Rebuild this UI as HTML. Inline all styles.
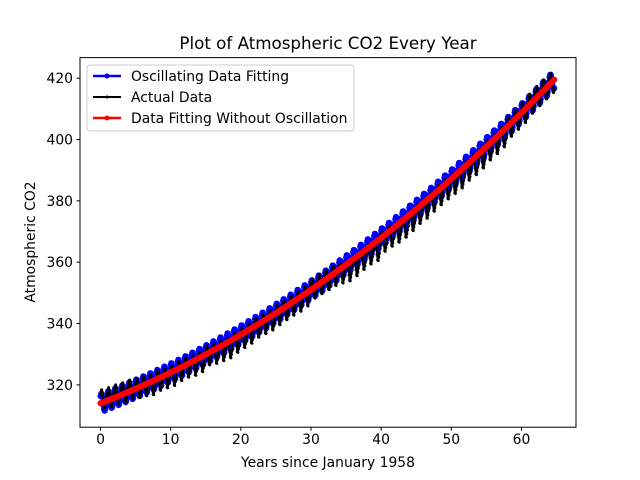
<!DOCTYPE html>
<html><head><meta charset="utf-8"><style>body{margin:0;background:#fff}svg{display:block;font-family:"DejaVu Sans","Liberation Sans",sans-serif}</style></head>
<body>
<svg id="chart" width="640" height="480" xmlns="http://www.w3.org/2000/svg">
<rect width="640" height="480" fill="#fff"/>
<text x="328" y="49" font-size="16.7" text-anchor="middle">Plot of Atmospheric CO2 Every Year</text>
<text x="328" y="467" font-size="13.9" text-anchor="middle">Years since January 1958</text>
<text x="35" y="242" font-size="13.9" text-anchor="middle" transform="rotate(-90 35 242)">Atmospheric CO2</text>
<defs><clipPath id="clip"><rect x="80" y="57.6" width="496" height="369.6"/></clipPath></defs>
<g id="plot" clip-path="url(#clip)"></g>
<g id="axes"></g>
<g id="legend">
<rect x="87" y="65" width="267" height="66" rx="3" fill="#fff" fill-opacity="0.8" stroke="#ccc"/>
<g><line x1="93" y1="76" x2="121" y2="76" stroke="#00f" stroke-width="2.5"/><circle cx="107" cy="76" r="2.5" fill="#00f"/><text x="131" y="81" font-size="13.9">Oscillating Data Fitting</text></g>
<g><line x1="93" y1="97" x2="121" y2="97" stroke="#000" stroke-width="2"/><circle cx="107" cy="97" r="1.5" fill="#000"/><text x="131" y="102" font-size="13.9">Actual Data</text></g>
<g><line x1="93" y1="118" x2="121" y2="118" stroke="#f00" stroke-width="2.5"/><circle cx="107" cy="118" r="2.5" fill="#f00"/><text x="131" y="123" font-size="13.9">Data Fitting Without Oscillation</text></g>
</g>
</svg>
<script>
// Annual mean CO2 1958..2023
const annualMeans=[315.3,316.0,316.9,317.6,318.5,319.0,319.6,320.0,321.4,322.2,323.0,324.6,325.7,326.3,327.5,329.7,330.2,331.1,332.0,333.8,335.4,336.8,338.7,339.9,341.1,342.8,344.4,345.9,347.2,348.9,351.5,352.9,354.2,355.6,356.4,357.1,358.8,360.8,362.6,363.7,366.7,368.4,369.7,371.3,373.5,375.8,377.5,379.8,381.9,383.8,385.6,387.4,389.9,391.7,393.9,396.5,398.6,400.8,404.2,406.5,408.7,411.7,414.2,416.4,418.5,421.1];
// Seasonal offsets Jan..Dec
const seasonalCycle=[0.0,0.7,1.4,2.6,3.1,2.4,0.9,-1.2,-3.0,-3.2,-2.0,-0.8];
const monthCount=[777];
// fit params: a, b, c (quadratic)
const fitQuad=[314.0,0.889,0.01149];
// oscillation: amplitude, phase (radians)
const fitOsc=[3.0,0.9];
const xTicks=[0,10,20,30,40,50,60];
const yTicks=[320,340,360,380,400,420];

const L=80,R=576,T=57.6,B=427.2,xmin=-2.92,xmax=67.77,ymin=306.2,ymax=426.7;
const X=v=>L+(v-xmin)/(xmax-xmin)*(R-L);
const Y=v=>B-(v-ymin)/(ymax-ymin)*(B-T);
const NS='http://www.w3.org/2000/svg';
const plot=document.getElementById('plot'),axes=document.getElementById('axes');
function mk(tag,attrs,parent){const e=document.createElementNS(NS,tag);for(const k in attrs)e.setAttribute(k,attrs[k]);parent.appendChild(e);return e;}

const ts=[],actual=[],oscFit=[],plainFit=[];
for(let i=0;i<monthCount[0];i++){
  const t=i/12, m=(i+2)%12, yr=Math.floor((i+2)/12);
  if(yr>=annualMeans.length)break;
  ts.push(t);
  actual.push(annualMeans[yr]+seasonalCycle[m]);
  const q=fitQuad[0]+fitQuad[1]*t+fitQuad[2]*t*t;
  plainFit.push(q);
  oscFit.push(q+fitOsc[0]*Math.sin(2*Math.PI*t+fitOsc[1]));
}
function series(vals,color,lw,r,name){
  const g=mk('g',{},plot);
  
  
  const d=vals.map((v,i)=>(i?'L':'M')+X(ts[i]).toFixed(1)+' '+Y(v).toFixed(1)).join('');
  mk('path',{d:d,fill:'none',stroke:color,'stroke-width':lw,'stroke-linejoin':'round'},g);
  vals.forEach((v,i)=>{const c=mk('circle',{cx:X(ts[i]).toFixed(1),cy:Y(v).toFixed(1),r:r,fill:color},g);
    
    });
}
series(oscFit,'#00f',2.5,3,'oscillating-fit-series');
series(actual,'#000',2,1.5,'actual-data-series');
series(plainFit,'#f00',3,3,'plain-fit-series');

const frame=mk('rect',{x:L,y:T,width:R-L,height:B-T,fill:'none',stroke:'#000','stroke-width':1},axes);


xTicks.forEach(v=>{const x=X(v);
  mk('line',{x1:x,y1:B,x2:x,y2:B+3.5,stroke:'#000'},axes);
  const t=mk('text',{x:x,y:B+17,'font-size':13.9,'text-anchor':'middle'},axes);t.textContent=v;
  
  });
yTicks.forEach(v=>{const y=Y(v);
  mk('line',{x1:L,y1:y,x2:L-3.5,y2:y,stroke:'#000'},axes);
  const t=mk('text',{x:L-7,y:y+5,'font-size':13.9,'text-anchor':'end'},axes);t.textContent=v;
  
  });
</script>
</body></html>
